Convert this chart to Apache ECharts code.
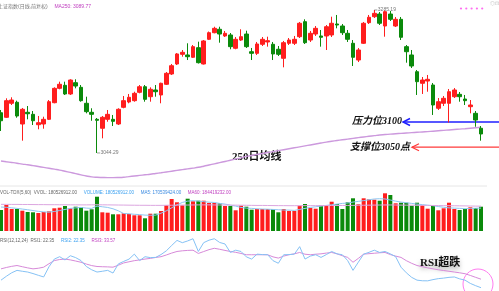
<!DOCTYPE html>
<html><head><meta charset="utf-8">
<script src="https://cdn.jsdelivr.net/npm/echarts@6/dist/echarts.min.js"></script>
<style>html,body{margin:0;padding:0;background:#fff;overflow:hidden}#c{width:499px;height:291px}</style>
</head><body><div id="c"></div>
<script>
// [open, close, low, high]
const candles = [
[3112.1,3098.6,3081.3,3116.7],[3104.4,3132.4,3103.2,3136.4],[3128.0,3133.5,3125.1,3138.1],[3129.7,3106.6,3103.7,3132.4],
[3093.1,3117.9,3065.0,3120.1],[3112.8,3110.4,3101.0,3123.4],[3109.4,3098.6,3091.4,3115.0],[3091.9,3095.3,3084.2,3106.6],
[3093.1,3101.0,3085.2,3105.4],[3101.0,3130.7,3099.8,3133.5],[3129.0,3153.2,3128.0,3154.9],[3153.2,3160.0,3151.6,3164.4],
[3158.3,3143.7,3142.0,3164.4],[3143.7,3167.2,3142.0,3168.4],[3162.7,3157.1,3153.2,3168.4],[3154.9,3132.4,3130.7,3158.8],
[3128.0,3113.9,3111.1,3139.1],[3112.8,3109.4,3098.6,3119.6],[3101.0,3099.3,3044.29,3103.2],[3085.9,3104.4,3069.0,3106.6],
[3101.0,3109.4,3096.9,3116.7],[3101.0,3097.6,3089.7,3108.3],[3093.1,3117.9,3091.4,3119.6],[3121.2,3132.4,3119.6,3140.3],
[3130.2,3138.1,3128.0,3143.7],[3132.4,3144.8,3130.7,3147.5],[3146.5,3155.9,3144.8,3158.8],[3155.9,3134.7,3130.7,3158.8],
[3139.1,3151.6,3130.7,3154.9],[3150.4,3147.5,3139.1,3158.8],[3142.0,3161.7,3128.0,3162.7],[3160.0,3178.5,3158.8,3180.7],
[3177.4,3191.3,3175.7,3194.2],[3194.2,3211.1,3192.5,3212.7],[3210.5,3213.9,3206.5,3217.8],[3209.4,3206.5,3200.9,3229.1],
[3205.5,3223.4,3204.3,3226.2],[3221.7,3196.4,3195.0,3231.8],[3194.2,3233.0,3193.4,3234.6],[3235.8,3246.9,3234.6,3248.9],
[3246.9,3254.3,3245.9,3257.0],[3252.7,3244.7,3230.1,3257.0],[3241.4,3245.9,3239.7,3249.8],[3243.1,3223.4,3219.0,3246.4],
[3220.7,3235.8,3219.0,3239.7],[3234.6,3240.2,3233.0,3252.7],[3244.7,3223.4,3221.2,3250.3],[3214.9,3212.2,3200.9,3221.2],
[3212.2,3227.9,3209.4,3231.3],[3227.4,3235.8,3224.5,3239.7],[3231.3,3233.5,3223.4,3240.2],[3227.4,3211.1,3200.9,3231.3],
[3219.0,3210.5,3207.7,3224.5],[3203.8,3230.1,3188.6,3233.0],[3229.1,3234.6,3226.2,3238.0],[3229.1,3235.8,3226.2,3241.4],
[3240.2,3262.8,3238.0,3265.0],[3265.5,3230.1,3227.9,3269.5],[3234.6,3245.9,3231.3,3249.8],[3244.7,3254.3,3241.4,3258.2],
[3241.4,3239.2,3223.4,3251.5],[3241.4,3257.0,3217.8,3259.9],[3243.1,3262.8,3239.7,3273.9],[3261.6,3259.9,3254.3,3276.8],
[3258.2,3246.9,3243.1,3261.6],[3245.9,3235.8,3231.3,3251.5],[3229.1,3205.5,3190.8,3234.6],[3200.9,3217.8,3197.5,3221.2],
[3229.1,3262.8,3227.9,3265.0],[3263.8,3272.9,3261.6,3276.8],[3273.9,3279.6,3271.7,3285.19],[3278.4,3262.8,3259.9,3281.8],
[3258.2,3282.3,3240.2,3284.3],[3278.4,3269.5,3266.7,3283.5],[3258.2,3269.5,3256.5,3273.4],[3269.5,3239.2,3234.6,3273.4],
[3223.4,3214.9,3196.4,3226.2],[3209.4,3190.8,3187.5,3217.8],[3181.2,3164.4,3142.0,3184.1],[3161.7,3167.2,3143.7,3172.3],
[3165.5,3168.4,3147.5,3175.7],[3158.8,3125.1,3108.3,3162.2],[3119.6,3130.7,3116.7,3136.9],[3128.0,3136.4,3123.4,3140.3],
[3128.0,3147.5,3095.6,3152.1],[3139.1,3150.4,3136.9,3153.7],[3143.1,3139.1,3130.7,3147.0],[3135.2,3132.4,3125.1,3142.0],
[3122.3,3125.1,3111.1,3133.5],[3111.1,3099.8,3088.5,3115.0],[3085.9,3076.3,3065.0,3089.7]
];
const ma250 = [
3030.7,3029.5,3028.3,3027,3025.5,3024.5,3023,3021.5,3020,3018.5,
3017,3015.5,3013.5,3011.5,3009.5,3007.5,3005.5,3004,3003.3,3003,
3002.8,3002.8,3003,3003.5,3004.5,3005.5,3006.5,3007.5,3008.5,3009.8,
3011,3012.3,3013.6,3014.9,3016.2,3017.5,3018.8,3020.2,3022,3024,
3026,3028,3030,3032,3034,3036,3038.5,3040,3041.7,3043.3,
3045,3046.6,3048.2,3049.8,3051.4,3053,3054.6,3056.2,3057.8,3059.4,
3061,3062.6,3064,3065.3,3066.5,3067.7,3068.9,3070.1,3071.3,3072.4,
3073.5,3074.6,3075.3,3076,3076.7,3077.3,3077.9,3078.5,3079.1,3079.7,
3080.3,3081,3081.7,3082.4,3083.1,3083.8,3084.5,3085.2,3086,3086.8,
3087.6];
// volume, millions of shares
const volumeM = [
156.0,193.2,163.5,163.5,150.8,141.2,138.9,133.7,141.2,146.4,
168.7,173.1,185.8,168.7,180.5,178.3,150.8,161.2,254.8,138.9,
136.0,124.1,124.1,131.5,126.3,116.7,116.7,94.4,128.5,128.5,
148.6,191.0,237.8,213.2,191.0,240.0,220.7,225.1,225.1,208.0,
208.0,205.8,185.8,185.8,153.8,188.0,180.5,158.3,163.5,163.5,
163.5,163.5,138.9,163.5,148.6,148.6,188.0,200.6,170.9,165.7,
191.0,191.0,217.7,200.6,163.5,213.2,243.0,198.4,243.0,235.5,
232.6,225.1,280.1,267.5,205.8,210.3,210.3,188.0,210.3,191.0,
165.7,188.0,153.8,168.7,210.3,163.5,156.0,163.5,176.1,170.9,
180.53];
const volMA5 = [
178,176,172,168,163,158,152,146,142,140,
145,152,160,168,172,175,170,168,185,180,
175,165,150,130,128,124,122,118,117,118,
132,150,172,195,212,222,225,222,218,214,
212,205,200,192,185,175,170,168,165,163,
162,160,158,156,155,153,160,168,175,180,
185,190,195,200,205,208,215,220,226,232,
238,240,238,230,222,215,210,205,200,196,
192,188,182,176,172,170,168,166,168,169,
170.54];
const volMA60 = [
198,198,197.5,197.5,197,197,196.5,196,196,195.5,
195.5,195,195,194.5,194.5,194,194,194.5,195,194.5,
194,193.5,193,192.5,192,191.5,191,191,190.5,190.5,
190.5,191,191.5,192,192.5,193,193.5,194,194,194,
193.5,193.5,193,192.5,192,191.5,191,190.5,190,190,
189.5,189,188.5,188.5,188,188,188,188.5,188.5,188.5,
189,189,189.5,189.5,189.5,190,190.5,191,191.5,192,
192.5,193,193.5,193.5,193,192.5,192,191.5,191,190.5,
190,189.5,189,188.5,188,187.5,187,186.5,185.5,185,
184.42];
const rsi2 = [
32.3,37.4,42,45.2,44,43,41,38.7,36.5,50,
60.1,63.2,58.9,64.5,62,58.1,50.3,46,43,44,
45.2,41.7,53.7,57,60,66.6,58.1,63.2,62,62.3,
66,71,78,84.7,81.7,84,86.9,70.1,81.7,85,
86.9,82,80,68.8,71.8,70.1,63,60.1,66.6,66,
65.8,58,54.6,65.8,66,66.6,76.5,60.1,64,65.8,
62.3,66,70.1,67,65.8,58.1,45.2,56,66.6,69,
71.8,68.8,70.1,67,63.2,49.4,42,36,32.3,31.5,
31.4,33,34.3,35,36,36.5,34,32.3,28,25,
22.35];
const rsi3 = [
47.2,49,50.5,51.6,50,48.5,47.2,48,49.4,54,
58.1,59.5,60.1,59,57.5,55.9,53.5,51.5,50.3,50,
49.8,49.4,52,55,56.5,58,59,60.1,61,62.2,
63.2,65.5,68,70.1,71,71.5,71.8,67.5,70,72.5,
74.3,73,71.5,70.1,69,67.5,65.8,65.8,65.8,65.8,
65.8,63,61.4,64,65.8,67,68.8,66.5,65.8,66.5,
67,68,68.8,67,64.5,62.3,55.9,61,66.6,67.2,
67.8,68.4,68.8,66,64,62.3,58,54.5,51.6,50,
48.5,47.2,46,45,44,43,42,40.8,38.5,36,
33.57];
const days = candles.map((_, i) => String(i + 1));
const resistanceLevel = 3096.5;   // drawn position of the 压力位 arrow
const supportLevel = 3054;        // drawn position of the 支撑位 arrow

const RED = '#ff1e1e', GREEN = '#0b8a0b';
const chart = echarts.init(document.getElementById('c'), null, {renderer: 'canvas'});
const xa = (g) => ({type: 'category', gridIndex: g, data: days, boundaryGap: false, show: false});
const option = {
  animation: false,
  backgroundColor: '#fff',
  grid: [
    {left: 1, width: 480, top: 1.2, height: 184},
    {left: 1, width: 480, top: 186, height: 45},
    {left: 1, width: 480, top: 228.8, height: 63.6}
  ],
  xAxis: [xa(0), xa(1), xa(2)],
  yAxis: [
    {type: 'value', gridIndex: 0, min: 2990, max: 3300, show: false, scale: true},
    {type: 'value', gridIndex: 1, min: 0, max: 334.35, show: false},
    {type: 'value', gridIndex: 2, min: 18, max: 100, show: false}
  ],
  series: [
    {type: 'line', xAxisIndex: 0, yAxisIndex: 0, data: ma250, symbol: 'none', smooth: true,
     lineStyle: {color: '#cc99dd', width: 1.4}, z: 1},
    {type: 'candlestick', xAxisIndex: 0, yAxisIndex: 0, data: candles, barWidth: 4, clip: false,
     itemStyle: {color: RED, color0: GREEN, borderColor: RED, borderColor0: GREEN, borderWidth: 1}, z: 3},
    {type: 'bar', xAxisIndex: 1, yAxisIndex: 1, barWidth: 4,
     data: volumeM.map((v, i) => ({value: v, itemStyle: {color: candles[i][1] >= candles[i][0] ? RED : GREEN}}))},
    {type: 'line', xAxisIndex: 1, yAxisIndex: 1, data: volMA5, symbol: 'none', lineStyle: {color: '#8ec8f2', width: 1}, z: 5},
    {type: 'line', xAxisIndex: 1, yAxisIndex: 1, data: volMA60, symbol: 'none', lineStyle: {color: '#dca6e0', width: 1}, z: 5},
    {type: 'line', xAxisIndex: 2, yAxisIndex: 2, data: rsi3, symbol: 'none', lineStyle: {color: '#d78ad9', width: 1}},
    {type: 'line', xAxisIndex: 2, yAxisIndex: 2, data: rsi2, symbol: 'none', lineStyle: {color: '#86c2f5', width: 1}}
  ]
};
chart.setOption(option);

// annotations positioned through the chart's own scales
const px = (i, p) => chart.convertToPixel({xAxisIndex: 0, yAxisIndex: 0}, [i, p]);
let hiI = 0, loI = 0;
candles.forEach((c, i) => { if (c[3] > candles[hiI][3]) hiI = i; if (c[2] < candles[loI][2]) loI = i; });
const hp = px(hiI, candles[hiI][3]);
const lp = px(loI, candles[loI][2]);
const ry = px(0, resistanceLevel)[1];
const sy = px(0, supportLevel)[1];
const tiny = 'Liberation Sans, Noto Sans CJK SC, sans-serif';
const hand = 'Liberation Serif, Noto Sans CJK SC, serif';

chart.setOption({graphic: [
  {type: 'text', left: -2, top: 1, style: {text: '{g|上证指数(日线,前复权)}  {p|MA250: 3089.77}',
    rich: {g: {fill: '#777', fontSize: 5, fontFamily: tiny}, p: {fill: '#c040c0', fontSize: 5, fontFamily: tiny}}}},
  {type: 'group', children: [0,1,2,3,4].map(k => ({type: 'circle', shape: {cx: 461 + k * 5.3, cy: 8.5, r: 1.1}, style: {fill: '#ff6cf0'}}))},
  {type: 'text', left: 490, top: 1, style: {text: '◎⊡', fill: '#bbb', fontSize: 5, fontFamily: tiny}},
  {type: 'line', shape: {x1: 0, y1: 186, x2: 487, y2: 186}, style: {stroke: '#e6e6e6', lineWidth: 1}},
  {type: 'text', left: 0, top: 187, style: {text:
    '{g|VOL-TDX(5,60)  VVOL: 180526912.00}  {b|VOLUME: 180526912.00}  {c|MA5: 170539424.00}  {p|MA60: 184419232.00}',
    rich: {g: {fill: '#666', fontSize: 4.5, fontFamily: tiny}, b: {fill: '#3aa0f0', fontSize: 4.5, fontFamily: tiny},
           c: {fill: '#3a8ae0', fontSize: 4.5, fontFamily: tiny}, p: {fill: '#c040c0', fontSize: 4.5, fontFamily: tiny}}}},
  {type: 'text', left: 0, top: 235, style: {text: '{g|RSI(12,12,24)  RSI1: 22.35}  {b|RSI2: 22.35}  {p|RSI3: 33.57}',
    rich: {g: {fill: '#666', fontSize: 4.5, fontFamily: tiny}, b: {fill: '#3aa0f0', fontSize: 4.5, fontFamily: tiny},
           p: {fill: '#c040c0', fontSize: 4.5, fontFamily: tiny}}}},
  // high / low markers
  {type: 'polyline', shape: {points: [[hp[0], hp[1] + 2], [hp[0], hp[1]], [hp[0] + 3, hp[1]]]}, style: {stroke: '#888', lineWidth: 0.8, fill: null}},
  {type: 'text', x: hp[0] + 3.5, y: hp[1], style: {text: '3285.19', fill: '#777', fontSize: 5, fontFamily: tiny, verticalAlign: 'middle'}},
  {type: 'line', shape: {x1: lp[0], y1: lp[1], x2: lp[0] + 3, y2: lp[1]}, style: {stroke: '#888', lineWidth: 0.8}},
  {type: 'text', x: lp[0] + 3.5, y: lp[1], style: {text: '3044.29', fill: '#777', fontSize: 5, fontFamily: tiny, verticalAlign: 'middle'}},
  // resistance
  {type: 'text', x: 402, y: ry - 1, style: {text: '压力位3100', fill: '#111', font: 'italic bold 10px ' + hand, align: 'right', verticalAlign: 'middle'}},
  {type: 'line', shape: {x1: 403, y1: ry, x2: 499, y2: ry}, style: {stroke: '#1f1fff', lineWidth: 1.5}},
  {type: 'polyline', shape: {points: [[410, ry - 3.5], [403, ry], [410, ry + 3.5]]}, style: {stroke: '#1f1fff', lineWidth: 1.5, fill: null}},
  // support
  {type: 'text', x: 410, y: sy, style: {text: '支撑位3050点', fill: '#111', font: 'italic bold 10px ' + hand, align: 'right', verticalAlign: 'middle'}},
  {type: 'line', shape: {x1: 412, y1: sy, x2: 499, y2: sy}, style: {stroke: '#ff3a3a', lineWidth: 1.3}},
  {type: 'polyline', shape: {points: [[419, sy - 3.5], [412, sy], [419, sy + 3.5]]}, style: {stroke: '#ff3a3a', lineWidth: 1.3, fill: null}},
  // MA250 caption
  {type: 'text', x: 232, y: 157, style: {text: '250日均线', fill: '#111', font: 'bold 11px ' + hand, verticalAlign: 'middle'}},
  // RSI caption + circle
  {type: 'text', x: 420, y: 263, style: {text: 'RSI超跌', fill: '#111', font: 'bold 11px ' + hand, verticalAlign: 'middle',
    textShadowColor: 'rgba(0,0,0,0.35)', textShadowBlur: 5, textShadowOffsetY: 3}},
  {type: 'ellipse', shape: {cx: 478, cy: 284, rx: 15, ry: 15}, style: {stroke: '#ff7cf0', lineWidth: 1, fill: null}}
]});
</script>
</body></html>
